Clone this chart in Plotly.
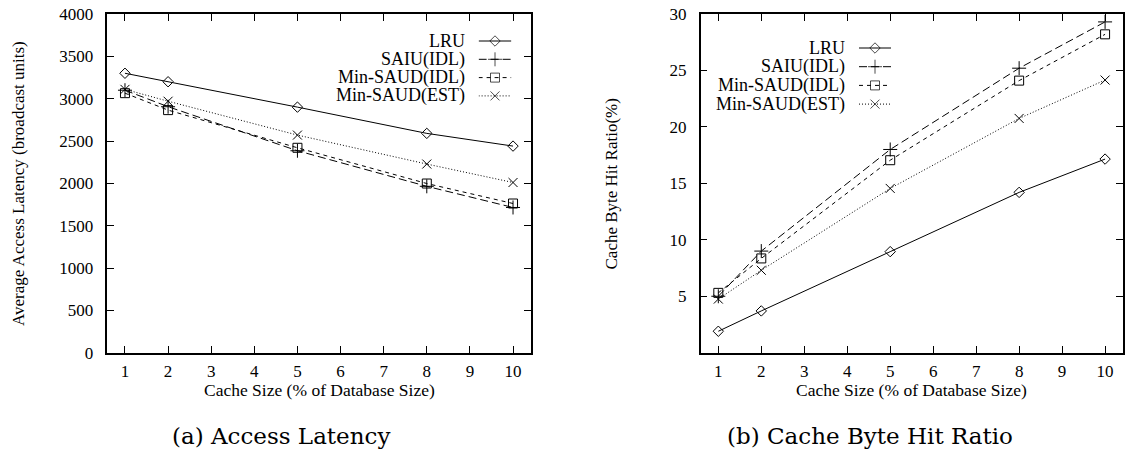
import plotly.graph_objects as go

W, H = 1125, 455

cache_sizes = [1, 2, 5, 8, 10]
series_names = ["LRU", "SAIU(IDL)", "Min-SAUD(IDL)", "Min-SAUD(EST)"]

latency_lru = [3300, 3200, 2900, 2590, 2440]
latency_saiu = [3100, 2905, 2385, 1965, 1715]
latency_saud_idl = [3065, 2865, 2420, 1998, 1762]
latency_saud_est = [3110, 2970, 2570, 2228, 2010]

hit_lru = [1.9, 3.7, 8.95, 14.2, 17.15]
hit_saiu = [5.0, 9.0, 18.0, 25.2, 29.3]
hit_saud_idl = [5.3, 8.35, 17.05, 24.1, 28.2]
hit_saud_est = [4.75, 7.3, 14.55, 20.75, 24.15]

x_ticks = [1, 2, 3, 4, 5, 6, 7, 8, 9, 10]
lat_ticks = [0, 500, 1000, 1500, 2000, 2500, 3000, 3500, 4000]
hit_ticks = [5, 10, 15, 20, 25, 30]

styles = [
    dict(dash="solid", symbol="diamond-open", size=8),
    dict(dash="8px,4px", symbol="cross-thin-open", size=10),
    dict(dash="4px,4px", symbol="square-open", size=9),
    dict(dash="1px,2px", symbol="x-thin-open", size=9),
]

FONT = "Liberation Serif"
FS = 17

fig = go.Figure()

def px_x(p):
    return p / W

def px_y(p):
    return 1 - p / H

# plot areas in target pixels (x0, x1, y_top, y_bottom)
left_box = (107.3, 530.7, 14, 352.7)
right_box = (700.7, 1122.7, 14, 352.7)

def add_series(data, xa, ya):
    for name, ys, st in zip(series_names, data, styles):
        fig.add_trace(go.Scatter(
            x=cache_sizes, y=ys, mode="lines+markers", name=name,
            xaxis=xa, yaxis=ya, showlegend=False,
            line=dict(color="black", width=1, dash=st["dash"]),
            marker=dict(symbol=st["symbol"], size=st["size"], color="black",
                        line=dict(color="black", width=1)),
        ))

add_series([latency_lru, latency_saiu, latency_saud_idl, latency_saud_est], "x", "y")
add_series([hit_lru, hit_saiu, hit_saud_idl, hit_saud_est], "x2", "y2")

axis_common = dict(
    showline=True, linecolor="black", linewidth=1.5, mirror="ticks",
    ticks="inside", ticklen=7, tickcolor="black", tickwidth=1,
    showgrid=False, zeroline=False, automargin=False,
    tickfont=dict(family=FONT, size=FS, color="black"),
)

fig.update_layout(
    width=W, height=H,
    margin=dict(l=0, r=0, t=0, b=0, pad=0, autoexpand=False),
    paper_bgcolor="white", plot_bgcolor="rgba(0,0,0,0)",
    showlegend=False,
    xaxis=dict(domain=[px_x(left_box[0]), px_x(left_box[1])], range=[0.59, 10.41],
               tickvals=x_ticks, anchor="y", ticklabelstandoff=2, **axis_common),
    yaxis=dict(domain=[px_y(left_box[3]), px_y(left_box[2])], range=[0, 4000],
               tickvals=lat_ticks, anchor="x", ticklabelstandoff=9, **axis_common),
    xaxis2=dict(domain=[px_x(right_box[0]), px_x(right_box[1])], range=[0.59, 10.41],
                tickvals=x_ticks, anchor="y2", ticklabelstandoff=2, **axis_common),
    yaxis2=dict(domain=[px_y(right_box[3]), px_y(right_box[2])], range=[0, 30],
                tickvals=hit_ticks, anchor="x2", ticklabelstandoff=9, **axis_common),
)

annotations = []
# axis titles
for cx in [(left_box[0] + left_box[1]) / 2, (right_box[0] + right_box[1]) / 2]:
    annotations.append(dict(text="Cache Size (% of Database Size)", x=px_x(cx), y=px_y(390),
                            xref="paper", yref="paper", showarrow=False,
                            xanchor="center", yanchor="middle",
                            font=dict(family=FONT, size=FS + 0.5, color="black")))
annotations.append(dict(text="Average Access Latency (broadcast units)", x=px_x(18), y=px_y(184),
                        xref="paper", yref="paper", showarrow=False, textangle=-90,
                        xanchor="center", yanchor="middle",
                        font=dict(family=FONT, size=FS, color="black")))
annotations.append(dict(text="Cache Byte Hit Ratio(%)", x=px_x(610.5), y=px_y(184),
                        xref="paper", yref="paper", showarrow=False, textangle=-90,
                        xanchor="center", yanchor="middle",
                        font=dict(family=FONT, size=FS, color="black")))
# captions
annotations.append(dict(text="(a) Access Latency", x=px_x(281), y=px_y(436),
                        xref="paper", yref="paper", showarrow=False,
                        xanchor="center", yanchor="middle",
                        font=dict(family="DejaVu Serif", size=23, color="black")))
annotations.append(dict(text="(b) Cache Byte Hit Ratio", x=px_x(870), y=px_y(436),
                        xref="paper", yref="paper", showarrow=False,
                        xanchor="center", yanchor="middle",
                        font=dict(family="DejaVu Serif", size=23, color="black")))

# custom legends (text left of key), drawn on hidden overlay axes in pixel space
legend_specs = [
    # text right edge, key x0, key x1, first row y, row spacing, axis suffix
    (467, 478.6, 511.4, 41, 18.3, "3"),
    (847, 859, 891, 48, 18.7, "4"),
]
for text_right, kx0, kx1, row0, dy, sfx in legend_specs:
    fig.layout["xaxis" + sfx] = dict(domain=[px_x(kx0), px_x(kx1)], range=[0, 1],
                                    visible=False, anchor="y" + sfx, automargin=False)
    fig.layout["yaxis" + sfx] = dict(domain=[0, 1], range=[H, 0],
                                    visible=False, anchor="x" + sfx, automargin=False)
    for i, (name, st) in enumerate(zip(series_names, styles)):
        ry = row0 + i * dy
        annotations.append(dict(text=name, x=px_x(text_right), y=px_y(ry),
                                xref="paper", yref="paper", showarrow=False,
                                xanchor="right", yanchor="middle",
                                font=dict(family=FONT, size=FS + 1, color="black")))
        fig.add_trace(go.Scatter(
            x=[0, 0.5, 1], y=[ry, ry, ry], mode="lines+markers",
            xaxis="x" + sfx, yaxis="y" + sfx, showlegend=False, hoverinfo="skip",
            line=dict(color="black", width=1, dash=st["dash"]),
            marker=dict(symbol=st["symbol"], size=[0, st["size"], 0], color="black",
                        line=dict(color="black", width=1)),
        ))

fig.update_layout(annotations=annotations)

fig.write_html(
    "out.html",
    config={"displayModeBar": False},
    post_script="document.body.style.margin='0';document.body.style.overflow='hidden';",
)
